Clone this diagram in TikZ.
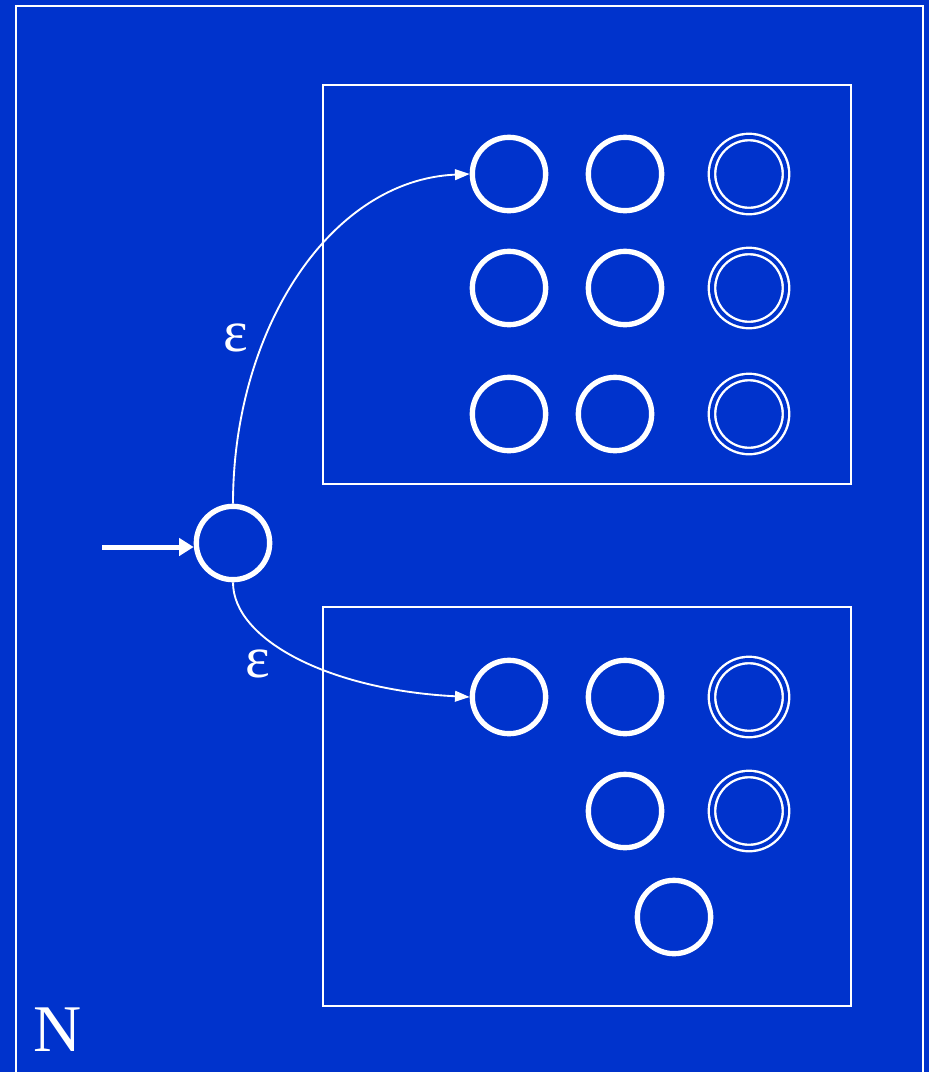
\documentclass[tikz,border=0pt]{standalone}
\usepackage{fontspec}
\setmainfont{Liberation Serif}
\usetikzlibrary{arrows.meta}

\definecolor{slideblue}{RGB}{0,51,204}

\tikzset{every picture/.style={line width=1.5pt}}
\tikzset{
  state/.style={circle, draw=white, line width=4pt, minimum size=55pt, inner sep=0pt},
  accepting/.style={circle, draw=white, line width=1.8pt, double=slideblue, double distance=3pt, minimum size=55.5pt, inner sep=0pt},
  part/.style={draw=white, line width=1.5pt},
  eps/.style={draw=white, line width=1.4pt, -{Triangle[length=11pt,width=8pt]}},
  lab/.style={text=white, font=\fontsize{44}{50}\selectfont}
}

\begin{document}
\begin{tikzpicture}[x=0.75pt,y=0.75pt,yscale=-1]
  %page with blue backdrop
  \useasboundingbox (0,0) rectangle (929,1072);
  \fill [slideblue] (0,0) rectangle (929,1072);

  %outer machine frame, runs off the bottom
  \draw [draw=white, line width=1.9pt] (16,6) rectangle (923,1090);

  %the two sub-machines
  \draw [part] (323,85) rectangle (851,484);
  \draw [part] (323,607) rectangle (851,1006);

  %start state
  \node [state] (q0) at (233,543) {};
  \coordinate (in) at (102,547);
  \draw [draw=white, line width=3.75pt, -{Triangle[length=11pt,width=13pt]}] (in) -- (q0.west |- in);

  %upper machine
  \node [state] (a1) at (509,174) {};
  \node [state] (a2) at (625,174) {};
  \node [accepting] (a3) at (749,174) {};
  \node [state] (a4) at (509,288) {};
  \node [state] (a5) at (625,288) {};
  \node [accepting] (a6) at (749,288) {};
  \node [state] (a7) at (509,414) {};
  \node [state] (a8) at (615,414) {};
  \node [accepting] (a9) at (749,414) {};

  %lower machine
  \node [state] (b1) at (509,697) {};
  \node [state] (b2) at (625,697) {};
  \node [accepting] (b3) at (749,697) {};
  \node [state] (b4) at (625,811) {};
  \node [accepting] (b5) at (749,811) {};
  \node [state] (b6) at (674,917) {};

  %epsilon moves
  \draw [eps] (q0.north) .. controls (233,330) and (330,180) .. (a1.west);
  \draw [eps] (q0.south) .. controls (233,640) and (330,690) .. (b1.west);

  \node [lab] (e1) at (236,338) {ε};
  \node [lab] (e2) at (258,664) {ε};
  \node [lab, font=\fontsize{50}{56}\selectfont] (nm) at (58,1030) {N};

\end{tikzpicture}
\end{document}
